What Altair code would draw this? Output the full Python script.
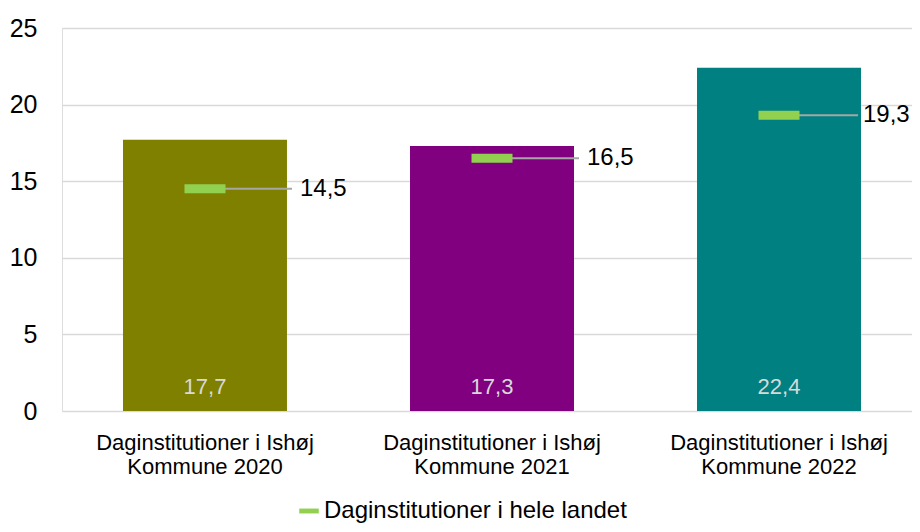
import altair as alt
import pandas as pd

categories = ["Daginstitutioner i Ishøj Kommune 2020",
              "Daginstitutioner i Ishøj Kommune 2021",
              "Daginstitutioner i Ishøj Kommune 2022"]
ishoj_values = [17.7, 17.3, 22.4]
national_values = [14.5, 16.5, 19.3]
bar_colors = ["#808000", "#800080", "#008080"]
legend_name = "Daginstitutioner i hele landet"

df = pd.DataFrame({
    "cat": categories,
    "val": ishoj_values,
    "nat": national_values,
    "series": [legend_name] * 3,
})
df["val_lbl"] = [f"{v:.1f}".replace(".", ",") for v in ishoj_values]
df["nat_lbl"] = [f"{v:.1f}".replace(".", ",") for v in national_values]

FONT = "Liberation Sans"
last_cat = categories[-1]

x_scale = alt.Scale(paddingInner=0.4286, paddingOuter=0.2125, range=[0, 860])
x = alt.X("cat:N", sort=categories, scale=x_scale,
          axis=alt.Axis(title=None, labelAngle=0, ticks=False, domain=False,
                        labelFontSize=22, labelColor="#000000", labelFont=FONT,
                        labelPadding=21, labelLineHeight=24, labelLimit=0,
                        labelExpr="[substring(datum.label, 0, indexof(datum.label, ' Kommune')), substring(datum.label, indexof(datum.label, ' Kommune') + 1)]"))
y_scale = alt.Scale(domain=[0, 25])

base = alt.Chart(df)

bars = base.mark_bar().encode(
    x=x,
    y=alt.Y("val:Q", scale=y_scale,
            axis=alt.Axis(title=None, values=[0, 5, 10, 15, 20, 25], ticks=False,
                          domain=False, grid=True, gridColor="#D9D9D9", gridWidth=1.5,
                          labelFontSize=25, labelFont=FONT, labelColor="#000000",
                          labelPadding=25)),
    color=alt.Color("cat:N", scale=alt.Scale(domain=categories, range=bar_colors), legend=None),
)

inner = base.mark_text(dy=-24, fontSize=22, font=FONT, color="#D9D9D9").encode(
    x=alt.X("cat:N", sort=categories),
    y=alt.Y("y0:Q", scale=y_scale),
    text="val_lbl:N",
).transform_calculate(y0="0")

not_last = alt.datum.cat != last_cat
is_last = alt.datum.cat == last_cat

leader_a = base.mark_rule(color="#A6A6A6", strokeWidth=2, x2Offset=87).encode(
    x=alt.X("cat:N", sort=categories),
    x2="cat",
    y=alt.Y("nat:Q", scale=y_scale),
).transform_filter(not_last)

leader_b = base.mark_rule(color="#A6A6A6", strokeWidth=2, x2Offset=79).encode(
    x=alt.X("cat:N", sort=categories),
    x2="cat",
    y=alt.Y("nat:Q", scale=y_scale),
).transform_filter(is_last)

marker = base.mark_tick(size=41, thickness=9, opacity=1).encode(
    x=alt.X("cat:N", sort=categories),
    y=alt.Y("nat:Q", scale=y_scale),
    color=alt.Color("series:N", scale=alt.Scale(domain=[legend_name], range=["#92D050"]),
                    legend=alt.Legend(title=None, orient="none", legendX=235, legendY=471,
                                      labelFontSize=24, labelFont=FONT, labelColor="#000000",
                                      labelLimit=0,
                                      symbolType="M-1,-0.25L1,-0.25L1,0.25L-1,0.25Z",
                                      symbolSize=380, symbolStrokeWidth=0, labelOffset=3)),
)

nat_text_a = base.mark_text(align="left", baseline="middle", dx=95, fontSize=24,
                            font=FONT, color="#000000").encode(
    x=alt.X("cat:N", sort=categories),
    y=alt.Y("nat:Q", scale=y_scale),
    text="nat_lbl:N",
).transform_filter(not_last)

nat_text_b = base.mark_text(align="left", baseline="middle", dx=84, fontSize=24,
                            font=FONT, color="#000000").encode(
    x=alt.X("cat:N", sort=categories),
    y=alt.Y("nat:Q", scale=y_scale),
    text="nat_lbl:N",
).transform_filter(is_last)

chart = alt.layer(bars, inner, leader_a, leader_b, marker, nat_text_a, nat_text_b).resolve_scale(
    color="independent"
).properties(
    width=850, height=383,
    autosize=alt.AutoSizeParams(type="none"),
    padding={"left": 54, "top": 20, "right": 0, "bottom": 113},
).configure_view(stroke=None).configure(background="white")

chart.save("out.html", embed_options={"renderer": "svg", "actions": False})
